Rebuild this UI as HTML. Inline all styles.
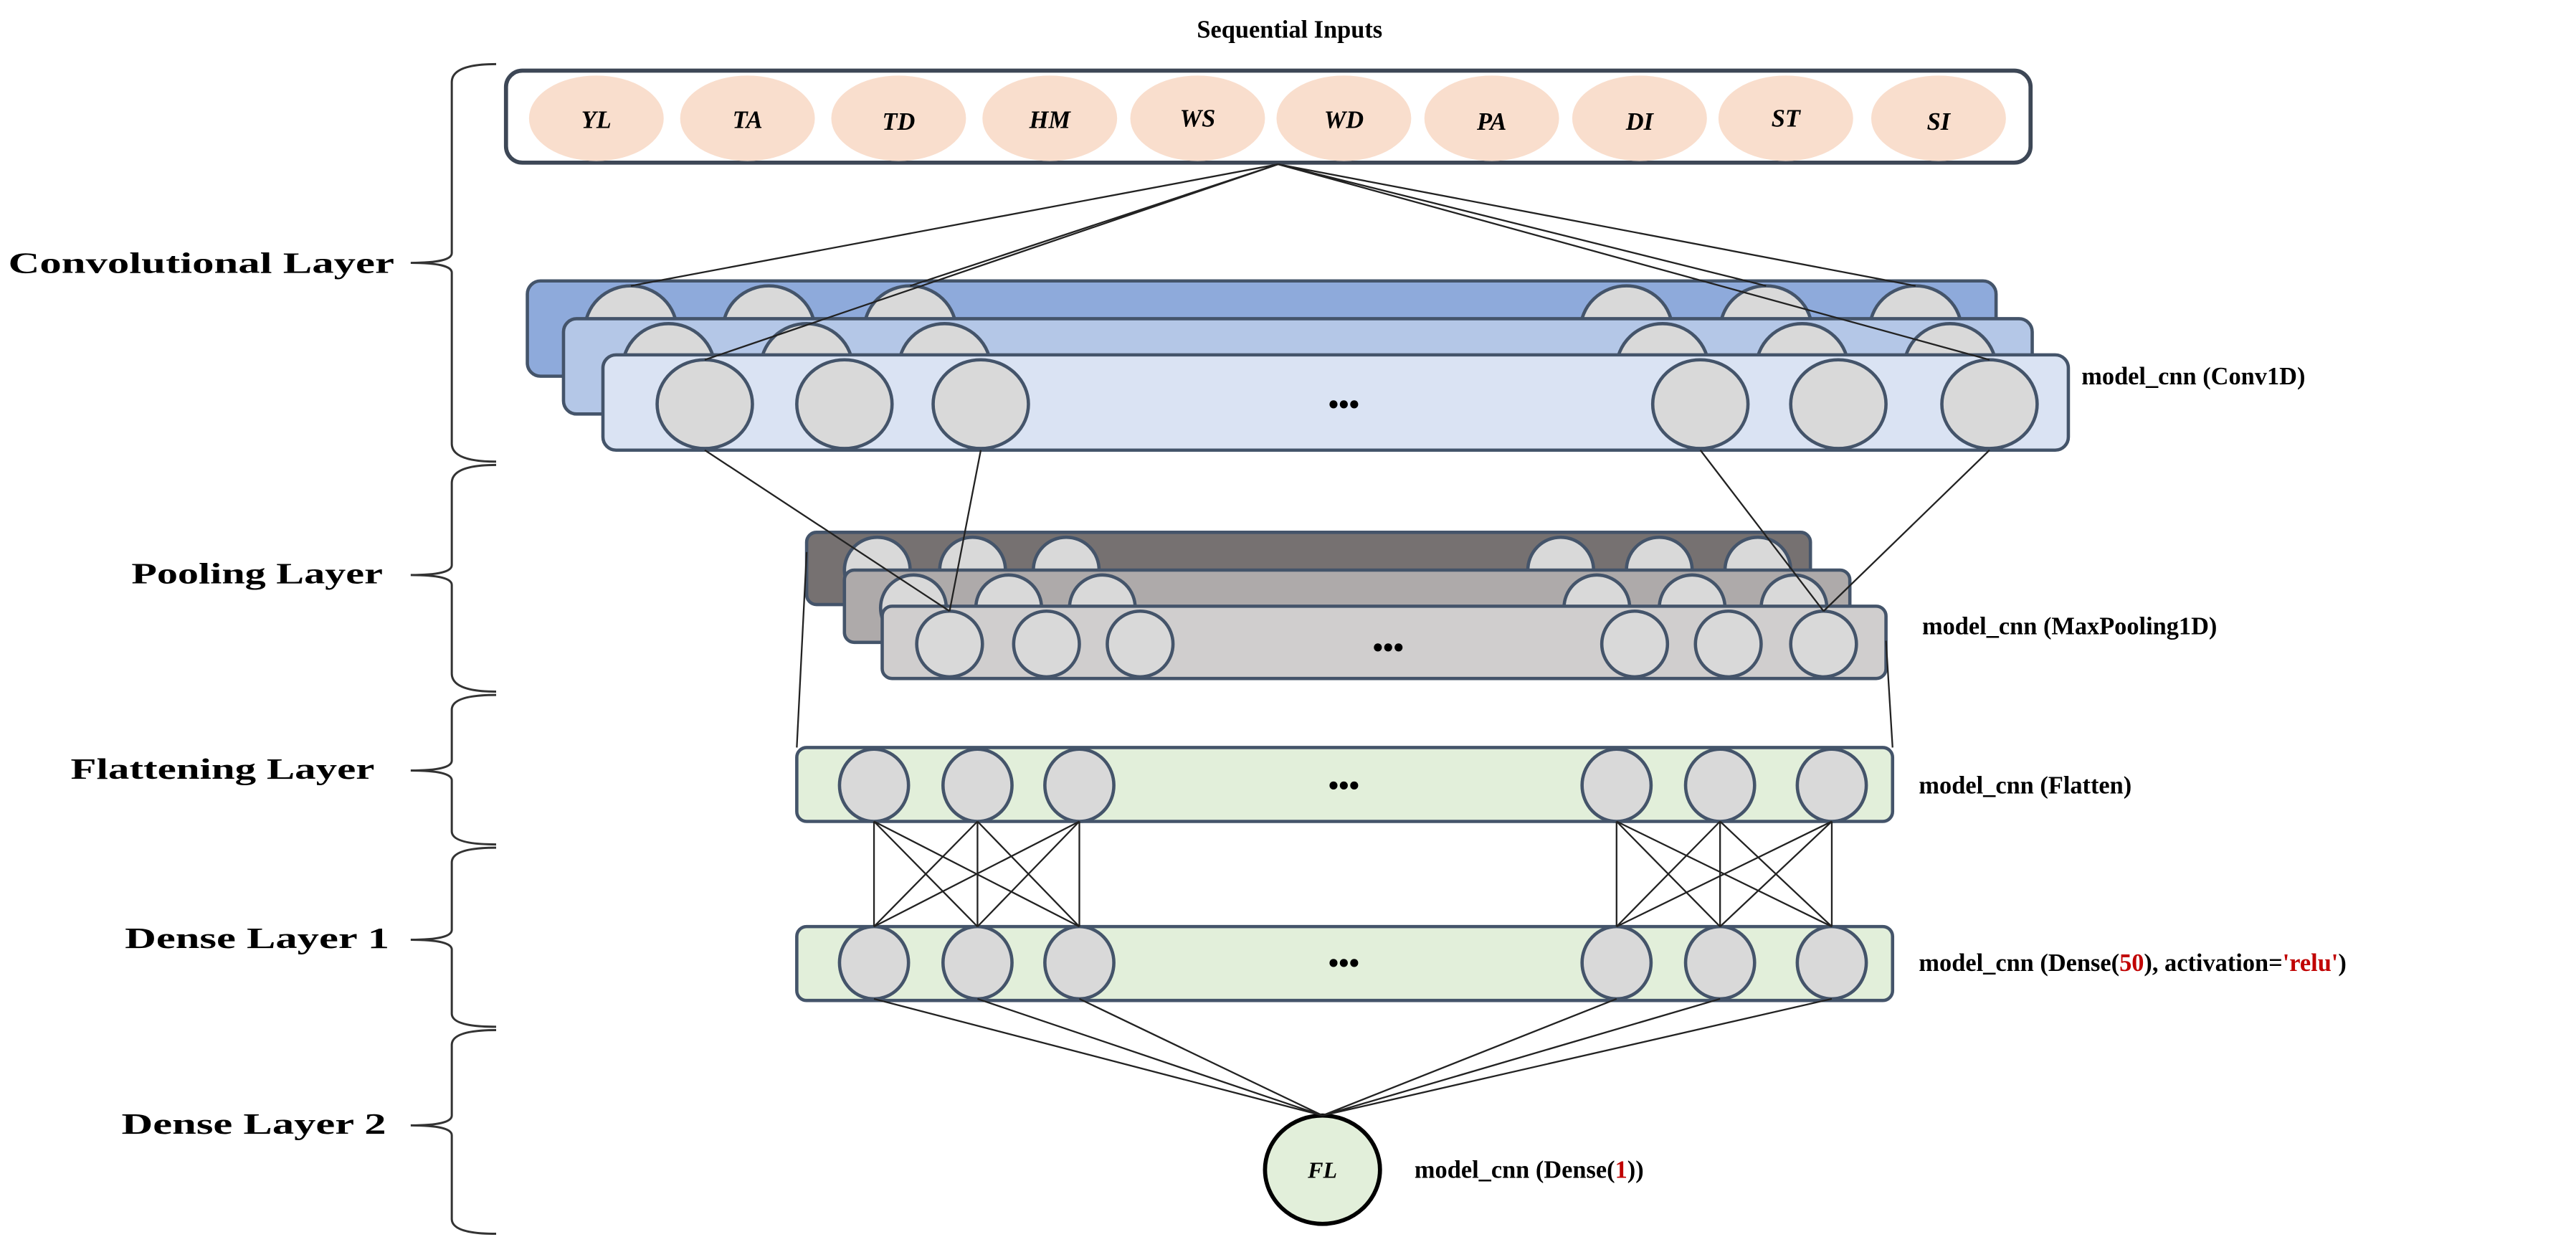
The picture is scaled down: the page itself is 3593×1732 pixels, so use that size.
<!DOCTYPE html>
<html><head><meta charset="utf-8"><style>
html,body{margin:0;padding:0;background:#fff;}
svg{display:block;}
text{font-family:"Liberation Serif",serif;font-weight:bold;}
</style></head><body>
<svg width="3593" height="1732" viewBox="0 0 1568 756" preserveAspectRatio="none" xmlns="http://www.w3.org/2000/svg">
<rect width="1568" height="756" fill="#fff"/>
<text x="785" y="23" font-size="15" text-anchor="middle">Sequential Inputs</text>
<!-- input box -->
<rect x="308" y="43" width="928" height="56" rx="10" fill="#fff" stroke="#3d4756" stroke-width="2.5"/>
<g fill="#f9decd">
<ellipse cx="363" cy="72" rx="41" ry="26"/><ellipse cx="455" cy="72" rx="41" ry="26"/>
<ellipse cx="547" cy="72" rx="41" ry="26"/><ellipse cx="639" cy="72" rx="41" ry="26"/>
<ellipse cx="729" cy="72" rx="41" ry="26"/><ellipse cx="818" cy="72" rx="41" ry="26"/>
<ellipse cx="908" cy="72" rx="41" ry="26"/><ellipse cx="998" cy="72" rx="41" ry="26"/>
<ellipse cx="1087" cy="72" rx="41" ry="26"/><ellipse cx="1180" cy="72" rx="41" ry="26"/>
</g>
<g font-size="15" font-style="italic" text-anchor="middle">
<text x="363" y="78">YL</text><text x="455" y="78">TA</text><text x="547" y="79">TD</text>
<text x="639" y="78">HM</text><text x="729" y="77">WS</text><text x="818" y="78">WD</text>
<text x="908" y="79">PA</text><text x="998" y="79">DI</text><text x="1087" y="77">ST</text>
<text x="1180" y="79">SI</text>
</g>
<!-- conv bars -->
<g stroke="#44546a" stroke-width="2">
<rect x="321" y="171" width="894" height="58" rx="8" fill="#8eaadb"/>
<g fill="#d9d9d9"><ellipse cx="384" cy="201" rx="28" ry="27"/><ellipse cx="468" cy="201" rx="28" ry="27"/><ellipse cx="554" cy="201" rx="28" ry="27"/><ellipse cx="990" cy="201" rx="28" ry="27"/><ellipse cx="1075" cy="201" rx="28" ry="27"/><ellipse cx="1166" cy="201" rx="28" ry="27"/></g>
<rect x="343" y="194" width="894" height="58" rx="8" fill="#b4c7e7"/>
<g fill="#d9d9d9"><ellipse cx="407" cy="224" rx="28" ry="27"/><ellipse cx="491" cy="224" rx="28" ry="27"/><ellipse cx="575" cy="224" rx="28" ry="27"/><ellipse cx="1012" cy="224" rx="28" ry="27"/><ellipse cx="1097" cy="224" rx="28" ry="27"/><ellipse cx="1187" cy="224" rx="28" ry="27"/></g>
<rect x="367" y="216" width="892" height="58" rx="8" fill="#dae3f3"/>
<g fill="#d9d9d9"><ellipse cx="429" cy="246" rx="29" ry="27"/><ellipse cx="514" cy="246" rx="29" ry="27"/><ellipse cx="597" cy="246" rx="29" ry="27"/><ellipse cx="1035" cy="246" rx="29" ry="27"/><ellipse cx="1119" cy="246" rx="29" ry="27"/><ellipse cx="1211" cy="246" rx="29" ry="27"/></g>
</g>
<text x="818" y="252" font-size="18" text-anchor="middle">•••</text>
<text x="1267" y="234" font-size="15">model_cnn (Conv1D)</text>
<!-- pooling bars -->
<g stroke="#44546a" stroke-width="2">
<rect x="491" y="324" width="611" height="44" rx="6" fill="#767171"/>
<g fill="#d9d9d9"><ellipse cx="534" cy="347" rx="20" ry="20"/><ellipse cx="592" cy="347" rx="20" ry="20"/><ellipse cx="649" cy="347" rx="20" ry="20"/><ellipse cx="950" cy="347" rx="20" ry="20"/><ellipse cx="1010" cy="347" rx="20" ry="20"/><ellipse cx="1070" cy="347" rx="20" ry="20"/></g>
<rect x="514" y="347" width="612" height="44" rx="6" fill="#aeaaaa"/>
<g fill="#d9d9d9"><ellipse cx="556" cy="370" rx="20" ry="20"/><ellipse cx="614" cy="370" rx="20" ry="20"/><ellipse cx="671" cy="370" rx="20" ry="20"/><ellipse cx="972" cy="370" rx="20" ry="20"/><ellipse cx="1030" cy="370" rx="20" ry="20"/><ellipse cx="1092" cy="370" rx="20" ry="20"/></g>
<rect x="537" y="369" width="611" height="44" rx="6" fill="#d0cece"/>
<g fill="#d9d9d9"><ellipse cx="578" cy="392" rx="20" ry="20"/><ellipse cx="637" cy="392" rx="20" ry="20"/><ellipse cx="694" cy="392" rx="20" ry="20"/><ellipse cx="995" cy="392" rx="20" ry="20"/><ellipse cx="1052" cy="392" rx="20" ry="20"/><ellipse cx="1110" cy="392" rx="20" ry="20"/></g>
</g>
<text x="845" y="400" font-size="18" text-anchor="middle">•••</text>
<text x="1170" y="386" font-size="15">model_cnn (MaxPooling1D)</text>
<!-- flatten -->
<g stroke="#44546a" stroke-width="2">
<rect x="485" y="455" width="667" height="45" rx="6" fill="#e2efda"/>
<g fill="#d9d9d9"><ellipse cx="532" cy="478" rx="21" ry="22"/><ellipse cx="595" cy="478" rx="21" ry="22"/><ellipse cx="657" cy="478" rx="21" ry="22"/><ellipse cx="984" cy="478" rx="21" ry="22"/><ellipse cx="1047" cy="478" rx="21" ry="22"/><ellipse cx="1115" cy="478" rx="21" ry="22"/></g>
<rect x="485" y="564" width="667" height="45" rx="6" fill="#e2efda"/>
<g fill="#d9d9d9"><ellipse cx="532" cy="586" rx="21" ry="22"/><ellipse cx="595" cy="586" rx="21" ry="22"/><ellipse cx="657" cy="586" rx="21" ry="22"/><ellipse cx="984" cy="586" rx="21" ry="22"/><ellipse cx="1047" cy="586" rx="21" ry="22"/><ellipse cx="1115" cy="586" rx="21" ry="22"/></g>
</g>
<text x="818" y="484" font-size="18" text-anchor="middle">•••</text>
<text x="818" y="592" font-size="18" text-anchor="middle">•••</text>
<text x="1168" y="483" font-size="15">model_cnn (Flatten)</text>
<text x="1168" y="591" font-size="15">model_cnn (Dense(<tspan fill="#c00000">50</tspan>), activation=<tspan fill="#c00000">'relu'</tspan>)</text>
<!-- FL -->
<ellipse cx="805" cy="712" rx="35" ry="33" fill="#e2efda" stroke="#000" stroke-width="2.5"/>
<text x="805" y="717" font-size="14" font-style="italic" font-weight="normal" text-anchor="middle">FL</text>
<text x="861" y="717" font-size="15">model_cnn (Dense(<tspan fill="#c00000">1</tspan>))</text>
<!-- lines -->
<g stroke="#222" stroke-width="1" fill="none">
<path d="M778 100L384 174M778 100L429 219M778 100L554 174M778 100L1166 174M778 100L1211 219M778 100L1075 174"/>
<path d="M429 274L578 372M597 274L578 372M1035 274L1110 372M1211 274L1110 372"/>
<path d="M491 336L485 455M1148 390L1152 455"/>
<path d="M532 500L532 564M532 500L595 564M532 500L657 564M595 500L532 564M595 500L595 564M595 500L657 564M657 500L532 564M657 500L595 564M657 500L657 564"/>
<path d="M984 500L984 564M984 500L1047 564M984 500L1115 564M1047 500L984 564M1047 500L1047 564M1047 500L1115 564M1115 500L984 564M1115 500L1047 564M1115 500L1115 564"/>
<path d="M532 608L805 679M595 608L805 679M657 608L805 679M984 608L805 679M1047 608L805 679M1115 608L805 679"/>
</g>
<!-- braces -->
<g stroke="#333" stroke-width="1.3" fill="none">
<path d="M302 39Q275 39 275 50L275 154Q275 160 250 160Q275 160 275 166L275 270Q275 281 302 281"/>
<path d="M302 283Q275 283 275 294L275 344Q275 350 250 350Q275 350 275 356L275 410Q275 421 302 421"/>
<path d="M302 423Q275 423 275 432L275 463Q275 469 250 469Q275 469 275 475L275 506Q275 514 302 514"/>
<path d="M302 516Q275 516 275 525L275 566Q275 572 250 572Q275 572 275 578L275 617Q275 625 302 625"/>
<path d="M302 627Q275 627 275 636L275 679Q275 685 250 685Q275 685 275 691L275 742Q275 751 302 751"/>
</g>
<g font-size="18">
<text x="5" y="166" textLength="235" lengthAdjust="spacingAndGlyphs">Convolutional Layer</text>
<text x="80" y="355" textLength="153" lengthAdjust="spacingAndGlyphs">Pooling Layer</text>
<text x="43" y="474" textLength="185" lengthAdjust="spacingAndGlyphs">Flattening Layer</text>
<text x="76" y="577" textLength="161" lengthAdjust="spacingAndGlyphs">Dense Layer 1</text>
<text x="74" y="690" textLength="161" lengthAdjust="spacingAndGlyphs">Dense Layer 2</text>
</g>
</svg>
</body></html>
